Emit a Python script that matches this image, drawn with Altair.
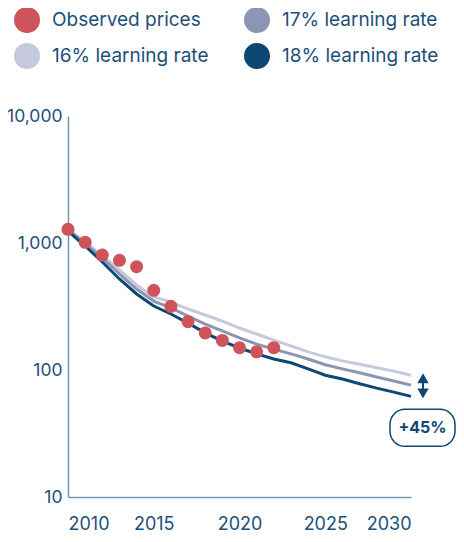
import altair as alt
import pandas as pd

# ---- data ----
years_obs = [2010, 2011, 2012, 2013, 2014, 2015, 2016, 2017, 2018, 2019, 2020, 2021, 2022]
observed = [1282, 1013, 804, 731, 651, 424, 317, 240, 196, 171, 150, 139, 150]

years_lr = [2010, 2011, 2012, 2013, 2014, 2015, 2016, 2017, 2018, 2019, 2020,
            2021, 2022, 2023, 2024, 2025, 2026, 2027, 2028, 2029, 2030]
lr16 = [1289, 1018, 790, 613, 467, 376, 343, 302, 271, 243, 214,
        192, 172, 155, 139, 127, 118, 111, 104, 98, 91]
lr17 = [1266, 982, 762, 570, 434, 349, 308, 266, 230, 203, 179,
        160, 146, 134, 122, 110, 102, 95, 88, 82, 76]
lr18 = [1243, 947, 709, 521, 397, 319, 276, 234, 196, 169, 149,
        134, 122, 114, 102, 91, 85, 78, 72, 67, 62]

series_names = ["Observed prices", "17% learning rate", "16% learning rate", "18% learning rate"]
series_colors = ["#d0525a", "#8c95b3", "#c6c9dc", "#0d4874"]

x_ticks = [2010, 2015, 2020, 2025, 2030]
y_ticks = [10, 100, 1000, 10000]

annot_year = [2030]
annot_hi = [91]
annot_lo = [62]
annot_label = ["+45%"]

TEXT = "#1d5079"
DARK = "#0d4874"

# ---- tables ----
obs_df = pd.DataFrame({"year": years_obs, "price": observed, "series": "Observed prices"})
l16 = pd.DataFrame({"year": years_lr, "price": lr16})
l17 = pd.DataFrame({"year": years_lr, "price": lr17})
l18 = pd.DataFrame({"year": years_lr, "price": lr18})
ann = pd.DataFrame({"year": annot_year, "hi": annot_hi, "lo": annot_lo, "label": annot_label})

xs = alt.Scale(domain=[2010, 2030], nice=False, zero=False)
ys = alt.Scale(type="log", domain=[10, 10000], nice=False)

x_enc = alt.X("year:Q", scale=xs, title=None,
              axis=alt.Axis(values=x_ticks, format="d", labelFlush=True, ticks=False,
                            grid=False, labelPadding=18, domainColor="#7398b4",
                            domainWidth=1.5, labelColor=TEXT, labelFontSize=18))
y_enc = alt.Y("price:Q", scale=ys, title=None,
              axis=alt.Axis(values=y_ticks, format=",", ticks=False, grid=False,
                            labelPadding=6, domainColor="#7398b4", domainWidth=1.5,
                            labelColor=TEXT, labelFontSize=17.5))

def line(df, color):
    return alt.Chart(df).mark_line(color=color, strokeWidth=3).encode(x=x_enc, y=y_enc)

lines = line(l16, series_colors[2]) + line(l17, series_colors[1]) + line(l18, series_colors[3])

points = alt.Chart(obs_df).mark_circle(size=169, opacity=1).encode(
    x=x_enc, y=y_enc,
    fill=alt.Fill("series:N",
                  scale=alt.Scale(domain=series_names, range=series_colors),
                  sort=series_names,
                  legend=alt.Legend(title=None, orient="none", legendX=-54, legendY=-109,
                                    direction="horizontal",
                                    columns=2, columnPadding=35, rowPadding=10,
                                    symbolType="circle", symbolSize=676, symbolOpacity=1,
                                    symbolStrokeWidth=0, labelFontSize=19, labelColor=TEXT,
                                    labelOffset=12, padding=0, labelLimit=300)),
)

base_ann = alt.Chart(ann)
arrow_stem = base_ann.mark_rule(color=DARK, strokeWidth=2, xOffset=12).encode(
    x=alt.X("year:Q", scale=xs), y=alt.Y("hi:Q", scale=ys), y2="lo:Q")
arrow_up = base_ann.mark_point(shape="triangle-up", filled=True, size=130, color=DARK,
                               opacity=1, xOffset=12, yOffset=3).encode(
    x=alt.X("year:Q", scale=xs), y=alt.Y("hi:Q", scale=ys))
arrow_down = base_ann.mark_point(shape="triangle-down", filled=True, size=130, color=DARK,
                                 opacity=1, xOffset=12, yOffset=-3).encode(
    x=alt.X("year:Q", scale=xs), y=alt.Y("lo:Q", scale=ys))
box = base_ann.mark_rect(fill="white", stroke=DARK, strokeWidth=1.5, cornerRadius=15,
                         xOffset=-21, x2Offset=44, yOffset=13, y2Offset=50).encode(
    x=alt.X("year:Q", scale=xs), x2="year:Q", y=alt.Y("lo:Q", scale=ys), y2="lo:Q")
box_text = base_ann.mark_text(fontSize=16, fontWeight="bold", color=DARK, dx=11.5, dy=32,
                              align="center", baseline="middle").encode(
    x=alt.X("year:Q", scale=xs), y=alt.Y("lo:Q", scale=ys), text="label:N")

chart = alt.layer(lines, points, arrow_stem, arrow_up, arrow_down, box, box_text).properties(
    width=343, height=381,
    autosize=alt.AutoSizeParams(type="none"),
    padding={"left": 60, "top": 108, "right": 45, "bottom": 37},
).configure(font="Inter").configure_view(stroke=None)

chart.save("out.html", embed_options={"renderer": "svg", "actions": False})
